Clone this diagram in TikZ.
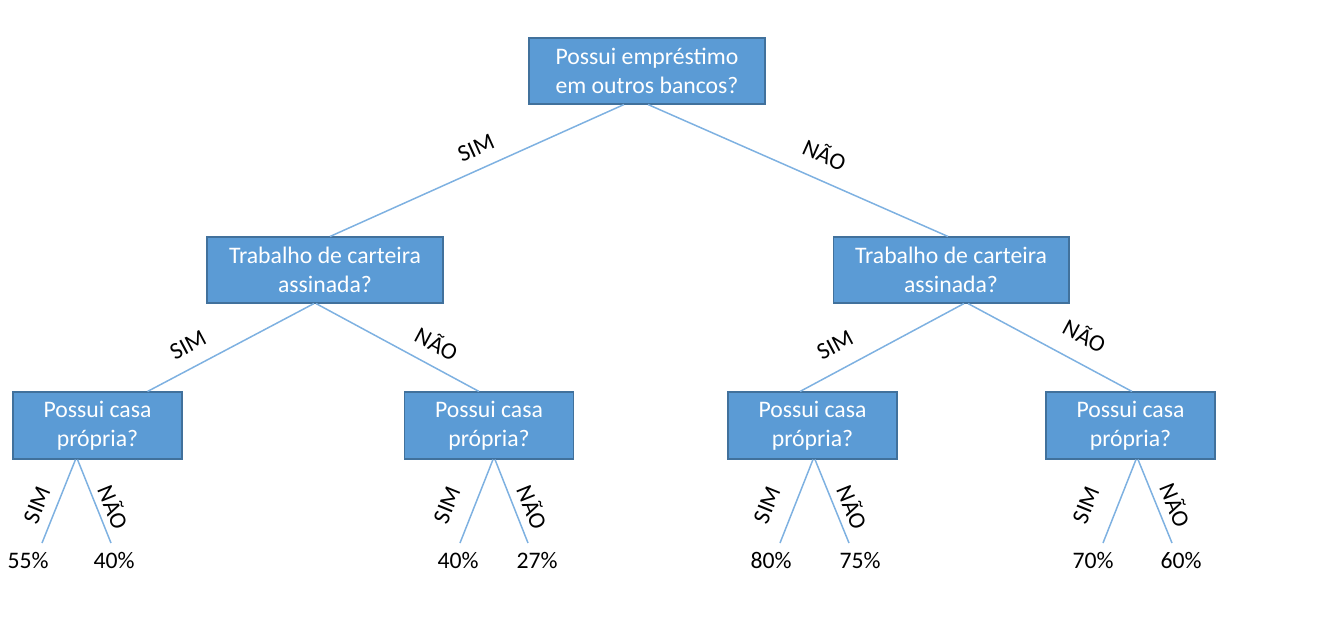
\documentclass[tikz,border=0pt]{standalone}
\usepackage{fontspec}
\setmainfont{Carlito}
\usetikzlibrary{calc}
\definecolor{boxfill}{HTML}{5B9BD5}
\definecolor{boxline}{HTML}{41719C}
\definecolor{edgeblue}{HTML}{7EB1E1}
\tikzset{
  quest/.style={draw=boxline, line width=0.6pt, fill=boxfill, text=white, align=center, inner sep=0pt, font=\fontsize{13.5}{16.5}\selectfont},
  bigquest/.style={quest, minimum width=4.72cm, minimum height=1.32cm},
  smallquest/.style={quest, minimum width=3.38cm, minimum height=1.34cm},
  edge/.style={draw=edgeblue, line width=0.85pt},
  answer/.style={font=\fontsize{13.5}{16}\selectfont, inner sep=0pt},
  share/.style={answer, anchor=base},
}

\begin{document}
\begin{tikzpicture}[x=0.02cm, y=-0.02cm]
  \useasboundingbox (0,0) rectangle (1320,619);
  % question boxes
  \node[bigquest] (root) at (647,71) {Possui empréstimo\\em outros bancos?};
  \node[bigquest] (work1) at (325,270) {Trabalho de carteira\\assinada?};
  \node[bigquest] (work2) at (951,270) {Trabalho de carteira\\assinada?};
  \node[smallquest] (houseA) at (97.5,425.5) {Possui casa\\própria?};
  \node[smallquest] (houseB) at (489,425.5) {Possui casa\\própria?};
  \node[smallquest] (houseC) at (812.5,425.5) {Possui casa\\própria?};
  \node[smallquest] (houseD) at (1130.5,425.5) {Possui casa\\própria?};
  % first and second level
  \draw[edge] ($(root.south)+(-23,0)$) -- ($(work1.north)+(5,0)$);
  \draw[edge] ($(root.south)+(1,0)$) -- ($(work2.north)+(-3,0)$);
  \draw[edge] ($(work1.south)+(-11,0)$) -- ($(houseA.north)+(50,0)$);
  \draw[edge] ($(work1.south)+(-9,0)$) -- ($(houseB.north)+(-10,0)$);
  \draw[edge] ($(work2.south)+(13,0)$) -- ($(houseC.north)+(-12.5,0)$);
  \draw[edge] ($(work2.south)+(17,0)$) -- ($(houseD.north)+(1.5,0)$);
  \node[answer, rotate=24] at (476,148) {SIM};
  \node[answer, rotate=-24] at (825,154) {NÃO};
  \node[answer, rotate=28] at (188,345) {SIM};
  \node[answer, rotate=-28] at (437,343) {NÃO};
  \node[answer, rotate=28] at (835,345) {SIM};
  \node[answer, rotate=-28] at (1085,335) {NÃO};
  % leaves
  \node[share] (pA1) at (28,568.5) {55\%};
  \node[share] (pA2) at (114,568.5) {40\%};
  \node[share] (pB1) at (458,568.5) {40\%};
  \node[share] (pB2) at (537,568.5) {27\%};
  \node[share] (pC1) at (771,568.5) {80\%};
  \node[share] (pC2) at (860,568.5) {75\%};
  \node[share] (pD1) at (1093,568.5) {70\%};
  \node[share] (pD2) at (1181,568.5) {60\%};
  \coordinate (endA1) at (42,543);
  \coordinate (endA2) at (111,543);
  \coordinate (endB1) at (460,543);
  \coordinate (endB2) at (528,543);
  \coordinate (endC1) at (780,543);
  \coordinate (endC2) at (849,543);
  \coordinate (endD1) at (1103,543);
  \coordinate (endD2) at (1172,543);
  \draw[edge] ($(houseA.south)+(-22,0)$) -- (endA1);
  \draw[edge] ($(houseA.south)+(-20,0)$) -- (endA2);
  \draw[edge] ($(houseB.south)+(4,0)$) -- (endB1);
  \draw[edge] ($(houseB.south)+(6,0)$) -- (endB2);
  \draw[edge] ($(houseC.south)+(0.5,0)$) -- (endC1);
  \draw[edge] ($(houseC.south)+(2.5,0)$) -- (endC2);
  \draw[edge] ($(houseD.south)+(5.5,0)$) -- (endD1);
  \draw[edge] ($(houseD.south)+(7.5,0)$) -- (endD2);
  \node[answer, rotate=68] at (37,505) {SIM};
  \node[answer, rotate=-68] at (114,507) {NÃO};
  \node[answer, rotate=68] at (447,505) {SIM};
  \node[answer, rotate=-68] at (533,507) {NÃO};
  \node[answer, rotate=68] at (767,505) {SIM};
  \node[answer, rotate=-68] at (853,507) {NÃO};
  \node[answer, rotate=68] at (1086,505) {SIM};
  \node[answer, rotate=-68] at (1176,505) {NÃO};
\end{tikzpicture}
\end{document}
